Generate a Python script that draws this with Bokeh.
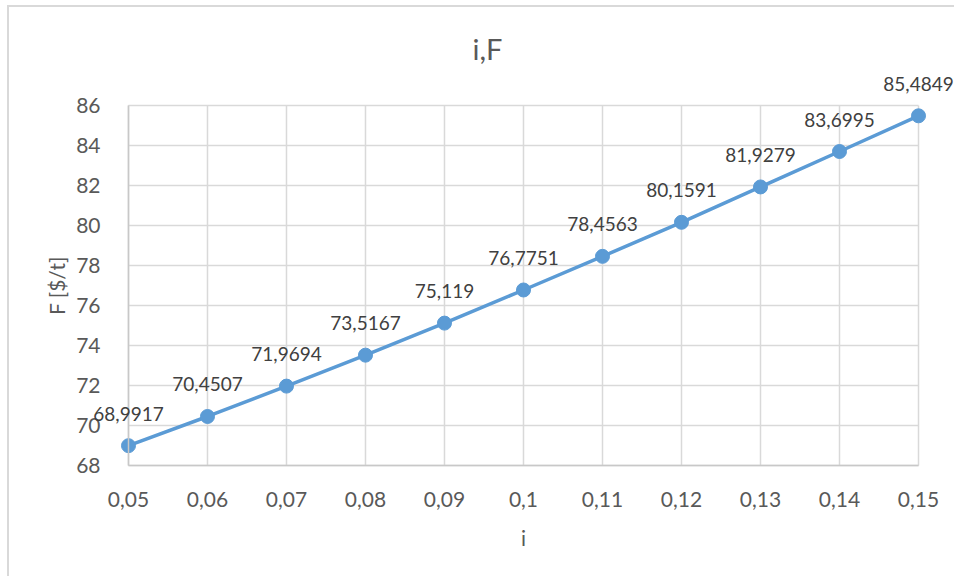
from bokeh.plotting import figure
from bokeh.models import ColumnDataSource, LabelSet, FixedTicker, Range1d
from bokeh.core.properties import value
from bokeh.embed import file_html
from bokeh.resources import INLINE

# Interest rate i and resulting F [$/t]
i_values = [0.05, 0.06, 0.07, 0.08, 0.09, 0.10, 0.11, 0.12, 0.13, 0.14, 0.15]
f_values = [68.9917, 70.4507, 71.9694, 73.5167, 75.119, 76.7751,
            78.4563, 80.1591, 81.9279, 83.6995, 85.4849]
x_tick_labels = ["0,05", "0,06", "0,07", "0,08", "0,09", "0,1",
                 "0,11", "0,12", "0,13", "0,14", "0,15"]
y_ticks = [68, 70, 72, 74, 76, 78, 80, 82, 84, 86]

point_labels = [str(v).replace(".", ",") for v in f_values]

FONT = "Lato"
TEXT = "#595959"
GRID = "#d9d9d9"
AXIS = "#c8c8c8"
BLUE = "#5b9bd5"

x_lo, x_hi = i_values[0], i_values[-1]
y_lo, y_hi = y_ticks[0], y_ticks[-1]

src = ColumnDataSource(dict(x=i_values, y=f_values, lab=point_labels))

# The frame reaches well past the gridded area: the axes are pinned to the
# corner (0.05, 68) and draw their labels inside it, and the end markers and
# value labels near the edges stay whole.
p = figure(
    width=947, height=571,
    x_range=Range1d(0.0388608, 0.1548101), y_range=Range1d(63.5, 87.75),
    output_backend="svg", toolbar_location=None,
    min_border_left=31, min_border_right=0,
    min_border_top=63, min_border_bottom=23,
    title="i,F",
)
p.styles = {
    "margin-left": "7px", "margin-top": "5px",
    "border-left": "2px solid #d9d9d9", "border-top": "2px solid #d9d9d9",
}
p.outline_line_color = None
p.background_fill_color = "white"
p.border_fill_color = "white"
p.grid.visible = False

p.title.text_font = FONT
p.title.text_font_size = "29px"
p.title.text_font_style = "normal"
p.title.text_color = TEXT
p.title.align = "left"
p.title.offset = 432
p.title.standoff = 9

# Grid lines over the gridded area only
p.segment(x0=i_values, y0=[y_lo] * len(i_values), x1=i_values, y1=[y_hi] * len(i_values),
          line_color=GRID, line_width=1.5)
p.segment(x0=[x_lo] * len(y_ticks), y0=y_ticks, x1=[x_hi] * len(y_ticks), y1=y_ticks,
          line_color=GRID, line_width=1.5)

# Axes pinned to the data corner (0.05, 68)
p.xaxis.ticker = FixedTicker(ticks=i_values)
p.xaxis.major_label_overrides = {v: s for v, s in zip(i_values, x_tick_labels)}
p.xaxis.fixed_location = y_lo
p.xaxis.bounds = (x_lo, x_hi)
p.yaxis.ticker = FixedTicker(ticks=y_ticks)
p.yaxis.fixed_location = x_lo
p.yaxis.bounds = (y_lo, y_hi)
for ax in (p.xaxis, p.yaxis):
    ax.major_tick_line_color = None
    ax.minor_tick_line_color = None
    ax.major_label_text_font = FONT
    ax.major_label_text_font_size = "21px"
    ax.major_label_text_color = TEXT
    ax.axis_label_text_font = FONT
    ax.axis_label_text_font_size = "21px"
    ax.axis_label_text_font_style = "normal"
    ax.axis_label_text_color = TEXT
    ax.axis_line_color = AXIS
    ax.axis_line_width = 1.5
p.xaxis.axis_label = "i"
p.yaxis.axis_label = "F [$/t]"
p.xaxis.major_label_standoff = 20
p.xaxis.axis_label_standoff = 15
p.yaxis.major_label_standoff = 22
p.yaxis.axis_label_standoff = 4

# Series
p.line("x", "y", source=src, line_color=BLUE, line_width=3.5)
p.scatter("x", "y", source=src, size=14, fill_color=BLUE, line_color=BLUE)

labels = LabelSet(x="x", y="y", text="lab", source=src,
                  text_align="center", text_baseline="alphabetic", y_offset=25,
                  text_font=value(FONT), text_font_size="19px", text_color="#404040")
p.add_layout(labels)

open("out.html", "w").write(file_html(p, INLINE))
